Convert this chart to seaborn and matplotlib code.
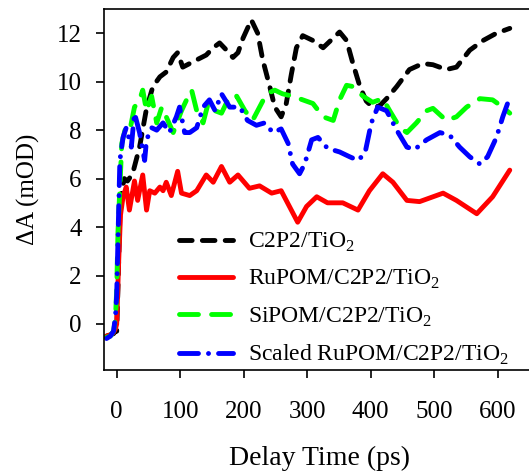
import numpy as np
import pandas as pd
import seaborn as sns
import matplotlib.pyplot as plt

# delay time (ps) and dA (mOD)
t_c2p2 = [-16, -10, -5, -2, 0, 2, 5, 8, 12, 17, 25, 36, 47, 57, 68, 78, 89, 96, 104, 115, 126,
          141, 152, 162, 173, 183, 191, 199, 212, 222, 230, 241, 249, 259, 267, 275, 283, 293,
          309, 325, 341, 351, 362, 372, 383, 393, 403, 414, 425, 441, 461, 482, 498, 519, 535,
          556, 577, 598, 619]
a_c2p2 = [-0.5, -0.45, -0.4, -0.3, -0.3, 1.5, 4.5, 5.5, 6.0, 5.9, 6.2, 7.3, 8.9, 9.8, 10.2, 10.4,
          11.0, 11.2, 10.6, 10.75, 10.9, 11.1, 11.4, 11.6, 11.3, 11.0, 11.2, 11.8, 12.55, 12.0,
          10.9, 9.8, 8.95, 8.55, 9.1, 10.3, 11.4, 11.9, 11.7, 11.4, 11.8, 12.05, 11.7, 10.75,
          9.8, 9.2, 8.95, 9.0, 9.3, 9.8, 10.5, 10.75, 10.7, 10.5, 10.6, 11.3, 11.7, 12.0, 12.2]

t_ru = [-16, -10, -5, -2, 0, 3, 6, 10, 15, 20, 28, 33, 41, 47, 52, 60, 68, 73, 78, 86, 96, 102,
        115, 126, 141, 152, 165, 178, 191, 209, 225, 244, 259, 272, 285, 299, 315, 332, 356,
        380, 398, 419, 435, 457, 477, 514, 535, 567, 592, 619]
a_ru = [-0.5, -0.45, -0.35, -0.2, 0.0, 2.5, 4.5, 5.25, 5.65, 4.7, 5.9, 5.1, 6.15, 4.7, 5.5, 5.4,
        5.65, 5.5, 5.85, 5.3, 6.3, 5.4, 5.3, 5.5, 6.15, 5.85, 6.5, 5.85, 6.15, 5.6, 5.7, 5.4,
        5.5, 4.85, 4.2, 4.85, 5.25, 5.0, 5.0, 4.7, 5.5, 6.2, 5.85, 5.1, 5.05, 5.4, 5.1, 4.55,
        5.25, 6.35]

t_si = [-16, -10, -5, -2, 0, 2, 8, 13, 20, 28, 36, 41, 47, 55, 63, 71, 78, 89, 102, 110, 118,
        126, 136, 144, 155, 165, 178, 189, 202, 214, 225, 236, 249, 261, 277, 293, 309, 325,
        341, 351, 362, 372, 388, 403, 419, 430, 446, 457, 472, 488, 498, 519, 535, 551, 572,
        592, 608, 619]
a_si = [-0.55, -0.5, -0.3, 0.2, 1.4, 3.8, 7.45, 8.0, 7.9, 8.95, 9.25, 9.65, 8.8, 9.4, 8.3, 8.95,
        8.55, 7.9, 8.8, 9.25, 9.65, 8.8, 8.3, 9.1, 8.8, 8.7, 9.4, 9.4, 8.8, 8.4, 8.95, 9.5,
        9.65, 9.5, 9.4, 9.25, 9.1, 8.55, 8.4, 9.25, 9.85, 9.8, 9.4, 9.15, 9.3, 8.8, 8.1, 7.9,
        8.3, 8.8, 8.9, 8.4, 8.55, 8.95, 9.3, 9.25, 8.95, 8.7]

t_scaled = [-16, -10, -5, -2, 0, 2, 5, 10, 15, 23, 28, 36, 44, 47, 55, 63, 73, 83, 94, 99, 107,
            115, 126, 136, 146, 155, 165, 178, 194, 206, 220, 233, 246, 259, 270, 277, 288, 296,
            307, 317, 332, 351, 367, 380, 391, 401, 411, 425, 441, 457, 469, 488, 509, 524, 540,
            556, 572, 584, 598, 608, 619]
a_scaled = [-0.6, -0.5, -0.3, 0.3, 1.2, 3.5, 6.75, 7.7, 8.1, 7.3, 8.7, 7.9, 6.75, 7.6, 8.1, 8.0,
            8.3, 7.9, 8.55, 8.95, 7.9, 7.9, 8.1, 8.95, 9.25, 8.8, 9.5, 8.95, 8.95, 8.4, 8.2, 8.3,
            7.9, 8.05, 7.45, 6.6, 6.2, 6.6, 7.6, 7.7, 7.25, 7.1, 6.9, 6.75, 7.05, 8.3, 8.95, 8.8,
            8.0, 7.3, 7.2, 7.6, 7.9, 7.8, 7.3, 6.9, 6.6, 6.9, 7.7, 8.55, 9.35]

series = [
    ('C2P2/TiO$_2$', t_c2p2, a_c2p2, 'black', (0, (2.6, 2.1))),
    ('RuPOM/C2P2/TiO$_2$', t_ru, a_ru, 'red', '-'),
    ('SiPOM/C2P2/TiO$_2$', t_si, a_si, '#00ff00', (0, (3.9, 2.7))),
    ('Scaled RuPOM/C2P2/TiO$_2$', t_scaled, a_scaled, 'blue', (0, (3.9, 2.06, 0.01, 2.06))),
]

sns.set_theme(style='ticks')
plt.rcParams['font.family'] = ['Liberation Serif', 'DejaVu Serif']
plt.rcParams['mathtext.fontset'] = 'custom'
plt.rcParams['mathtext.rm'] = 'Liberation Serif'
plt.rcParams['text.color'] = 'black'
plt.rcParams['axes.labelcolor'] = 'black'
plt.rcParams['xtick.color'] = 'black'
plt.rcParams['ytick.color'] = 'black'

fig = plt.figure(figsize=(5.29, 4.73), dpi=100)
xmin, xmax = -20, 660
px_per_ps = 0.635
ax_w = (xmax - xmin) * px_per_ps / 529
ax = fig.add_axes([104 / 529, 103 / 473, ax_w, 361 / 473])

for label, t, a, color, ls in series:
    df = pd.DataFrame({'t': t, 'a': a})
    sns.lineplot(data=df, x='t', y='a', ax=ax, color=color, linestyle=ls,
                 linewidth=3.5, label=label, sort=False, estimator=None,
                 dash_capstyle='round', solid_capstyle='round',
                 dash_joinstyle='round', solid_joinstyle='round')

ax.set_xlim(xmin, xmax)
ax.set_ylim(-1.9, 13.0)
ax.set_xticks([0, 100, 200, 300, 400, 500, 600])
ax.set_yticks([0, 2, 4, 6, 8, 10, 12])
ax.tick_params(axis='x', labelsize=18, pad=16, length=6, width=1.2, direction='out')
ax.tick_params(axis='y', labelsize=18, pad=10, length=6, width=1.2, direction='out')
for s in ['left', 'bottom', 'top']:
    ax.spines[s].set_linewidth(1.2)
    ax.spines[s].set_color('black')
ax.spines['right'].set_visible(False)

ax.set_xlabel('Delay Time (ps)', fontsize=20, labelpad=17)
ax.set_ylabel('ΔA (mOD)', fontsize=18, labelpad=12)

ax.legend(loc='upper left', bbox_to_anchor=(167 / 529, 1 - 219 / 473),
          bbox_transform=fig.transFigure, frameon=False, fontsize=17,
          handlelength=2.3, handletextpad=0.65, labelspacing=0.6, borderpad=0)

fig.savefig('out.png', dpi=100)
